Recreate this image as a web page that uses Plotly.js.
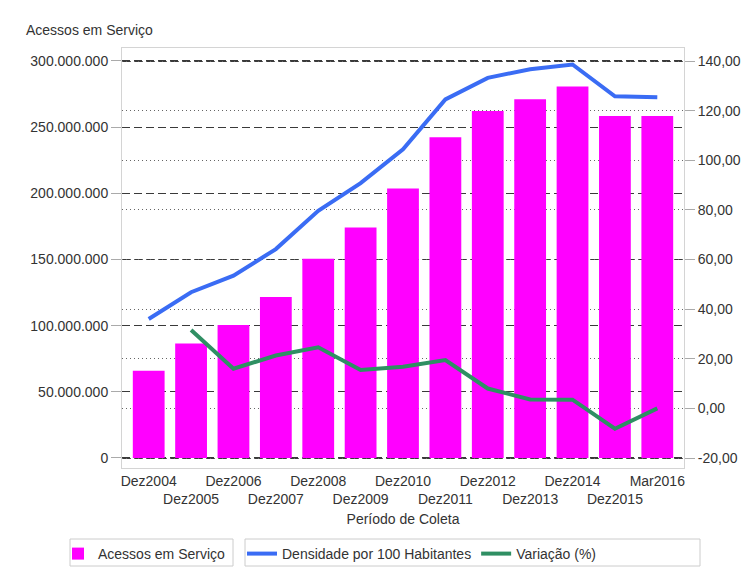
<!DOCTYPE html>
<html>
<head>
<meta charset="utf-8">
<script src="https://cdn.plot.ly/plotly-3.0.1.min.js"></script>
<style>html,body{margin:0;padding:0;background:#fff;}#chart{width:751px;height:572px;}</style>
</head>
<body>
<div id="chart"></div>
<script>
const categories = ['Dez2004','Dez2005','Dez2006','Dez2007','Dez2008','Dez2009','Dez2010','Dez2011','Dez2012','Dez2013','Dez2014','Dez2015','Mar2016'];
const acessos = [66.0e6, 86.5e6, 100.4e6, 121.7e6, 150.5e6, 174.2e6, 203.6e6, 242.3e6, 262.2e6, 271.1e6, 280.8e6, 258.5e6, 258.4e6];
const densidade = [36.0, 46.8, 53.5, 64.2, 79.6, 90.8, 104.4, 124.5, 133.2, 136.7, 138.6, 125.8, 125.4];
const variacao = [null, 31.6, 16.0, 21.3, 24.6, 15.5, 16.8, 19.5, 8.0, 3.6, 3.5, -8.2, 0.0];

const leftTickVals = [0, 50e6, 100e6, 150e6, 200e6, 250e6, 300e6];
const leftTickText = ['0', '50.000.000', '100.000.000', '150.000.000', '200.000.000', '250.000.000', '300.000.000'];
const rightTickVals = [-20, 0, 20, 40, 60, 80, 100, 120, 140];
const rightTickText = ['-20,00', '0,00', '20,00', '40,00', '60,00', '80,00', '100,00', '120,00', '140,00'];

const seriesNames = ['Acessos em Serviço', 'Densidade por 100 Habitantes', 'Variação (%)'];
const xTickText = categories.map((c, i) => (i % 2 ? '<br>' + c : c));

const FONT = 'Liberation Sans, Arial, sans-serif';
const W = 751, H = 572, L = 122, R = 684, T = 48, B = 468;
const px = x => (x - L) / (R - L);
const py = y => (B - y) / (B - T);
const cx = x => x / W;
const cy = y => 1 - y / H;

const traces = [
  {
    type: 'bar', name: seriesNames[0], x: categories, y: acessos,
    marker: {color: '#ff00ff', line: {width: 0}}, width: 0.75,
    yaxis: 'y', legend: 'legend', hoverinfo: 'skip'
  },
  {
    type: 'scatter', mode: 'lines', name: seriesNames[1], x: categories, y: densidade,
    line: {color: '#3a6cf4', width: 4}, yaxis: 'y2', legend: 'legend2'
  },
  {
    type: 'scatter', mode: 'lines', name: seriesNames[2], x: categories, y: variacao,
    line: {color: '#2f8f63', width: 4}, yaxis: 'y2', legend: 'legend2'
  }
];

const layout = {
  width: W, height: H,
  margin: {l: L, r: W - R, t: T, b: H - B},
  paper_bgcolor: '#fff', plot_bgcolor: '#fff',
  font: {family: FONT, size: 14, color: '#333'},
  title: {
    text: 'Acessos em Serviço', font: {family: FONT, size: 14, color: '#333'},
    xref: 'container', yref: 'container', x: 26 / W, xanchor: 'left', y: 1 - 30 / H, yanchor: 'middle'
  },
  xaxis: {
    type: 'category', range: [-0.63, 12.63],
    tickmode: 'array', tickvals: categories, ticktext: xTickText,
    showgrid: false, ticks: '', tickangle: 0,
    showline: true, mirror: true, linecolor: '#d4d4d4', linewidth: 1,
    tickfont: {family: FONT, size: 14, color: '#333'},
    title: {text: 'Período de Coleta', font: {family: FONT, size: 14, color: '#333'}, standoff: 8},
    fixedrange: true
  },
  yaxis: {
    range: [-7.56e6, 309.8e6],
    tickmode: 'array', tickvals: leftTickVals, ticktext: leftTickText,
    ticks: 'outside', ticklen: 10, tickcolor: '#aaa', tickwidth: 1,
    showgrid: true, gridcolor: '#3a3a3a', gridwidth: 1.2, griddash: '8px,4px',
    zeroline: false, showline: true, linecolor: '#d4d4d4', linewidth: 1,
    tickfont: {family: FONT, size: 14, color: '#333'}, fixedrange: true
  },
  yaxis2: {
    overlaying: 'y', side: 'right',
    range: [-24.03, 145.24],
    tickmode: 'array', tickvals: rightTickVals, ticktext: rightTickText,
    ticks: 'outside', ticklen: 10, tickcolor: '#aaa', tickwidth: 1,
    showgrid: true, gridcolor: '#666', gridwidth: 1, griddash: '1px,3px',
    zeroline: false, showline: true, linecolor: '#d4d4d4', linewidth: 1,
    tickfont: {family: FONT, size: 14, color: '#333'}, fixedrange: true
  },
  showlegend: true,
  legend: {
    xref: 'container', yref: 'container',
    x: cx(58), xanchor: 'left', y: cy(538), yanchor: 'top',
    orientation: 'h', bgcolor: 'rgba(0,0,0,0)', borderwidth: 0,
    font: {family: FONT, size: 14, color: '#333'}
  },
  legend2: {
    xref: 'container', yref: 'container',
    x: cx(242), xanchor: 'left', y: cy(538), yanchor: 'top',
    orientation: 'h', bgcolor: 'rgba(0,0,0,0)', borderwidth: 0,
    font: {family: FONT, size: 14, color: '#333'}
  },
  shapes: [
    {type: 'rect', xref: 'paper', yref: 'paper', x0: px(70), x1: px(233), y0: py(539), y1: py(566),
     line: {color: '#cccccc', width: 1}, fillcolor: 'rgba(0,0,0,0)', layer: 'below'},
    {type: 'rect', xref: 'paper', yref: 'paper', x0: px(245), x1: px(700), y0: py(539), y1: py(566),
     line: {color: '#cccccc', width: 1}, fillcolor: 'rgba(0,0,0,0)', layer: 'below'}
  ],
  bargap: 0.25
};

Plotly.newPlot('chart', traces, layout, {displayModeBar: false, staticPlot: true});
</script>
</body>
</html>
